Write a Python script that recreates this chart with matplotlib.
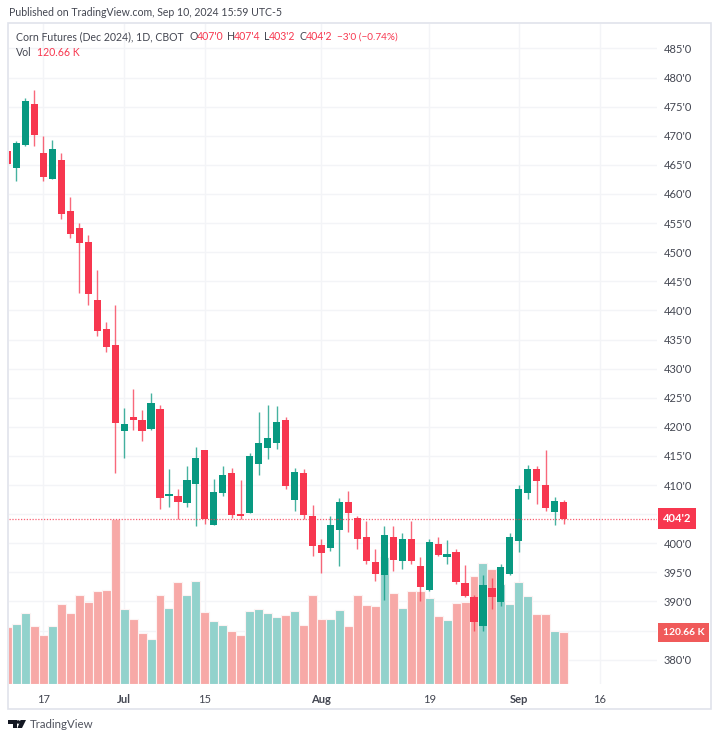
import numpy as np
import matplotlib
matplotlib.use("Agg")
import matplotlib.pyplot as plt
from matplotlib.patches import Circle, Polygon, Rectangle

plt.rcParams["font.family"] = ["Lato", "DejaVu Sans"]

# daily bars, Jun 12 - Sep 10 2024, skipped days left out like the original
opens = [467.4, 464.4, 468.4, 475.5, 467.0, 462.5, 465.9, 457.0, 454.1, 451.7, 441.8,
         436.8, 434.0, 419.3, 421.75, 421.1, 419.6, 423.0, 408.1, 408.2, 406.9, 410.1,
         416.1, 403.1, 408.7, 412.0, 405.0, 405.2, 413.6, 416.4, 417.2, 421.1, 407.4,
         412.0, 404.6, 399.7, 399.2, 402.2, 407.0, 404.3, 401.0, 396.7, 394.6, 401.0,
         396.9, 400.8, 396.1, 391.9, 399.9, 397.7, 398.5, 393.2, 390.7, 385.7, 392.3,
         389.9, 394.8, 400.4, 408.7, 412.8, 410.0, 405.4, 407.0]
highs = [467.4, 469.1, 476.5, 477.9, 470.0, 469.2, 467.1, 459.4, 455.0, 453.0, 447.0,
         438.0, 440.9, 423.2, 426.5, 422.9, 425.8, 423.7, 412.8, 409.3, 413.3, 416.5,
         416.1, 411.0, 413.3, 412.9, 410.9, 415.5, 422.6, 423.8, 423.5, 421.7, 412.9,
         412.8, 406.5, 400.8, 404.7, 407.8, 409.0, 404.7, 403.8, 399.0, 402.9, 403.0,
         401.7, 403.8, 397.6, 400.8, 401.0, 400.5, 399.0, 396.3, 391.1, 394.6, 394.0,
         396.4, 401.7, 410.0, 413.5, 413.2, 416.0, 408.0, 407.5]
lows = [465.1, 462.3, 468.2, 468.3, 462.2, 462.5, 455.7, 452.5, 443.0, 441.0, 435.6,
        432.9, 412.0, 414.7, 419.5, 417.6, 419.5, 405.8, 406.2, 404.1, 406.2, 403.0,
        403.3, 403.1, 408.2, 404.3, 404.1, 405.2, 411.7, 414.4, 416.2, 409.3, 405.5,
        404.1, 397.8, 394.9, 398.6, 396.1, 402.0, 399.0, 396.4, 393.5, 390.3, 395.2,
        395.6, 396.4, 390.0, 391.8, 397.8, 396.5, 393.0, 390.8, 384.9, 385.0, 388.7,
        389.3, 394.6, 398.5, 407.6, 406.8, 405.5, 403.2, 403.25]
closes = [465.1, 468.7, 475.9, 470.2, 462.9, 467.7, 456.6, 453.1, 451.6, 442.9, 436.4,
          433.7, 420.7, 420.5, 421.1, 419.3, 424.1, 407.7, 408.5, 407.1, 410.8, 414.7,
          404.2, 408.8, 411.7, 404.9, 404.6, 415.0, 417.3, 418.0, 420.8, 409.8, 412.3,
          404.9, 399.6, 398.4, 403.2, 407.0, 405.2, 400.7, 396.9, 394.8, 401.4, 397.1,
          400.8, 396.9, 392.5, 400.2, 397.9, 398.2, 393.4, 390.9, 386.4, 392.8, 390.7,
          396.0, 401.0, 409.3, 412.8, 410.7, 406.1, 407.3, 404.25]
volumes = [133, 141, 165, 135, 114, 135, 187, 165, 207, 191, 216, 219, 386, 176, 152,
           119, 106, 207, 177, 238, 207, 240, 168, 146, 137, 124, 115, 170, 176, 166,
           156, 161, 170, 138, 207, 152, 152, 172, 135, 207, 185, 183, 296, 212, 177,
           216, 216, 201, 158, 149, 189, 191, 251, 282, 269, 233, 187, 238, 205, 163,
           163, 124, 120.66]

price_ticks = [380, 385, 390, 395, 400, 405, 410, 415, 420, 425, 430, 435, 440, 445, 450,
               455, 460, 465, 470, 475, 480, 485]
hidden_prices = [385, 405]  # covered by the two value tags
date_ticks = [4, 13, 22, 35, 47, 57, 66]
date_labels = ["17", "Jul", "15", "Aug", "19", "Sep", "16"]
month_labels = ["Jul", "Aug", "Sep"]

UP = "#089981"
DOWN = "#f7374f"
TEXT = "#434651"
GRID = "#f3f4f7"
W, H = 720, 740

fig = plt.figure(figsize=(W / 100, H / 100), dpi=100, facecolor="white")


def fx(x):
    return x / W


def fy(y):
    return 1 - y / H


# chart frame
fig.add_artist(Rectangle((fx(8), fy(709)), 703 / W, 686 / H, transform=fig.transFigure,
                         fill=False, ec="#e0e3eb", lw=1.2))

ax = fig.add_axes([fx(9), fy(684), 648 / W, 660 / H])
ax.set_xlim(0.167, 72.4)
ax.set_ylim(375.82, 489.2)
for side in ax.spines.values():
    side.set_visible(False)
ax.set_axisbelow(True)
ax.grid(True, color=GRID, lw=1)

ax.set_yticks(price_ticks)
ax.set_yticklabels(["" if p in hidden_prices else f"{p}'0" for p in price_ticks],
                   fontsize=8, color=TEXT)
ax.set_xticks(date_ticks)
ax.set_xticklabels(date_labels, fontsize=8, color=TEXT)
for lab in ax.get_xticklabels():
    if lab.get_text() in month_labels:
        lab.set_fontweight("bold")

x = np.arange(len(closes))
o = np.array(opens)
c = np.array(closes)
colors = [UP if b >= a else DOWN for a, b in zip(opens, closes)]
vol_colors = ["#92d2cc" if b >= a else "#f7a9a7" for a, b in zip(opens, closes)]

# volume sits in its own overlay, bottom of the pane
vol_ax = ax.twinx()
vol_ax.set_ylim(0, 1540)
vol_ax.set_yticks([])
for side in vol_ax.spines.values():
    side.set_visible(False)
vol_ax.bar(x, volumes, width=1.0, color=vol_colors, edgecolor="#fdf3f3", linewidth=0.8, zorder=1)
vol_ax.text(1.0088, 120.66, "120.66 K", transform=vol_ax.get_yaxis_transform(), color="white",
            fontsize=7.4, fontweight="bold", va="center", ha="left", clip_on=False, zorder=6,
            bbox=dict(boxstyle="square,pad=0.46", fc="#f05a5a", ec="none"))

# price goes on a second overlay so it stays above the volume bars
top_ax = ax.twinx()
top_ax.set_ylim(ax.get_ylim())
top_ax.set_yticks([])
for side in top_ax.spines.values():
    side.set_visible(False)
top_ax.vlines(x, lows, highs, colors=colors, lw=1.0, alpha=0.75, zorder=2)
top_ax.bar(x, np.abs(c - o), bottom=np.minimum(o, c), width=0.8, color=colors, zorder=3)
top_ax.axhline(closes[-1], color=DOWN, lw=0.9, ls=(0, (1, 1.3)), alpha=0.8, zorder=4)
top_ax.text(1.0088, closes[-1], "404'2", transform=top_ax.get_yaxis_transform(), color="white",
            fontsize=8, fontweight="bold", va="center", ha="left", clip_on=False, zorder=6,
            bbox=dict(boxstyle="square,pad=0.42", fc=DOWN, ec="none"))

# twinx moves the ticks around, so settle them last
ax.yaxis.tick_right()
ax.tick_params(axis="both", length=0)
ax.tick_params(axis="y", pad=5)
ax.tick_params(axis="x", pad=7)

# header and legend
fig.text(fx(9), fy(13), "Published on TradingView.com, Sep 10, 2024 15:59 UTC-5",
         fontsize=7.6, color=TEXT, va="center")
fig.text(fx(16), fy(37), "Corn Futures (Dec 2024), 1D, CBOT", fontsize=7.6, color=TEXT, va="center")
legend_bits = [(189, "O", TEXT, 7.6), (197, "407'0", DOWN, 7.6), (227, "H", TEXT, 7.6), (234, "407'4", DOWN, 7.6),
               (264, "L", TEXT, 7.6), (269, "403'2", DOWN, 7.6), (299, "C", TEXT, 7.6), (306, "404'2", DOWN, 7.6),
               (337, "−3'0 (−0.74%)", DOWN, 7.2)]
for px, txt, col, size in legend_bits:
    fig.text(fx(px), fy(37), txt, fontsize=size, color=col, va="center")
fig.text(fx(16), fy(52), "Vol", fontsize=7.6, color=TEXT, va="center")
fig.text(fx(37), fy(52), "120.66 K", fontsize=7.6, color=DOWN, va="center")

# TradingView logo
logo = "#131722"
fig.add_artist(Polygon([(fx(8), fy(720)), (fx(16.5), fy(720)), (fx(16.5), fy(728)), (fx(12.5), fy(728)),
                        (fx(12.5), fy(723.5)), (fx(8), fy(723.5))], transform=fig.transFigure, fc=logo, ec="none"))
fig.add_artist(Polygon([(fx(20.5), fy(720)), (fx(26), fy(720)), (fx(22), fy(728)), (fx(17.5), fy(728))],
                       transform=fig.transFigure, fc=logo, ec="none"))
logo_dot = Circle((18.3, H - 722), 1.8, transform=None, fc=logo, ec="none")
fig.add_artist(logo_dot)
fig.text(fx(30), fy(724), "TradingView", fontsize=8.3, color="#50535e", va="center")

fig.savefig("out.png", dpi=100)
